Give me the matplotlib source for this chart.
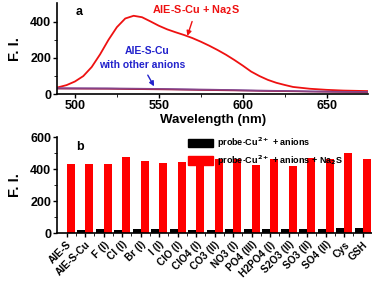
import numpy as np
import matplotlib.pyplot as plt
from matplotlib.patches import Patch

plt.rcParams['font.family'] = ['Liberation Sans', 'DejaVu Sans']
plt.rcParams['font.weight'] = 'bold'
plt.rcParams['mathtext.default'] = 'bf'

# panel a: spectra
wl = [490, 495, 500, 505, 510, 515, 520, 525, 530, 535, 540, 545, 550, 555,
      560, 565, 570, 575, 580, 585, 590, 595, 600, 605, 610, 615, 620, 625,
      630, 640, 650, 660, 675]
fi_na2s = [38, 50, 70, 100, 150, 220, 300, 370, 418, 433, 425, 402, 378, 358,
           342, 327, 310, 290, 268, 244, 218, 189, 158, 125, 100, 79, 63, 51,
           40, 30, 24, 20, 17]
wl_other = [490, 520, 550, 580, 610, 640, 675]
fi_other_1 = [32, 31, 28, 24, 19, 15, 12]
fi_other_2 = [30, 29, 26, 22, 18, 14, 11]
fi_other_3 = [34, 33, 30, 26, 21, 16, 13]

# panel b: bars
labels = ["AIE-S", "AIE-S-Cu", "F (I)", "Cl (I)", "Br (I)", "I (I)", "ClO (I)",
          "ClO4 (I)", "CO3 (II)", "NO3 (I)", "PO4 (III)", "H2PO4 (I)",
          "S2O3 (II)", "SO3 (II)", "SO4 (II)", "Cys", "GSH"]
black_vals = [0, 22, 25, 20, 25, 25, 25, 22, 22, 25, 28, 26, 28, 26, 28, 35, 30]
red_vals = [435, 432, 432, 475, 452, 440, 447, 432, 462, 465, 425, 462,
            420, 470, 462, 505, 462]

fig = plt.figure(figsize=(3.72, 2.82), dpi=100)
ax1 = fig.add_axes([0.154, 0.666, 0.835, 0.323])
ax2 = fig.add_axes([0.154, 0.173, 0.846, 0.340])

ax1.plot(wl, fi_na2s, color='#ee1111', lw=1.3)
ax1.plot(wl_other, fi_other_1, color='#3333bb', lw=1.0)
ax1.plot(wl_other, fi_other_2, color='#aa2244', lw=1.0)
ax1.plot(wl_other, fi_other_3, color='#884488', lw=1.0)
ax1.set_xlim(489.5, 674.6)
ax1.set_ylim(0, 503)
ax1.set_yticks([0, 200, 400])
ax1.set_xticks([500, 550, 600, 650])
ax1.set_xticks([525, 575, 625], minor=True)
ax1.set_yticks([100, 300], minor=True)
ax1.set_xlabel("Wavelength (nm)", fontsize=9.5, fontweight='bold', labelpad=1)
ax1.set_ylabel("F. I.", fontsize=10.5, fontweight='bold', labelpad=6)
ax1.text(0.06, 0.87, "a", transform=ax1.transAxes, fontsize=9, fontweight='bold')
ax1.annotate("AIE-S-Cu + Na$_2$S", xy=(567, 322), xytext=(572, 445),
             color='#ee1111', fontsize=7.8, fontweight='bold', ha='center',
             arrowprops=dict(arrowstyle='-|>', color='#ee1111', lw=1,
                             mutation_scale=7, shrinkA=1, shrinkB=0))
ax1.text(543, 222, "AIE-S-Cu", color='#2222cc', fontsize=7.5, fontweight='bold',
         ha='center')
ax1.annotate("with other anions", xy=(548, 30), xytext=(540, 145),
             color='#2222cc', fontsize=7.5, fontweight='bold', ha='center',
             arrowprops=dict(arrowstyle='-|>', color='#2222cc', lw=1,
                             mutation_scale=7, shrinkA=2))

x = np.arange(len(labels))
w = 0.43
ax2.bar(x - w / 2, black_vals, w, color='black')
ax2.bar(x + w / 2, red_vals, w, color='#ff0000')
ax2.set_xlim(-0.5, len(labels) - 0.5)
ax2.set_ylim(0, 600)
ax2.set_yticks([0, 200, 400, 600])
ax2.set_yticks([100, 300, 500], minor=True)
ax2.set_xticks(x)
ax2.set_xticks(x[:-1] + 0.5, minor=True)
ax2.set_xticklabels(labels, rotation=45, ha='right', rotation_mode='anchor',
                    fontsize=7.3, fontweight='bold')
ax2.set_ylabel("F. I.", fontsize=10.5, fontweight='bold', labelpad=6)
ax2.text(0.06, 0.87, "b", transform=ax2.transAxes, fontsize=9, fontweight='bold')
handles = [Patch(color='black'), Patch(color='#ff0000')]
ax2.legend(handles, ["probe-Cu$^{2+}$ + anions",
                     "probe-Cu$^{2+}$ + anions + Na$_2$S"],
           loc='upper left', bbox_to_anchor=(0.40, 1.06), frameon=False,
           fontsize=6.5, handlelength=2.8, handleheight=1.0,
           borderaxespad=0.1, labelspacing=0.3, handletextpad=0.5)

for ax in (ax1, ax2):
    ax.tick_params(axis='both', labelsize=9, width=1, length=3, pad=1.5)
    ax.tick_params(which='minor', length=2)
    for lab in ax.get_yticklabels():
        lab.set_fontweight('bold')
    for lab in ax.get_xticklabels():
        lab.set_fontweight('bold')
    for s in ('left', 'bottom'):
        ax.spines[s].set_linewidth(1.2)
    for s in ('top', 'right'):
        ax.spines[s].set_visible(False)
ax2.tick_params(axis='x', labelsize=7.3)

fig.savefig("out.png", dpi=100)
